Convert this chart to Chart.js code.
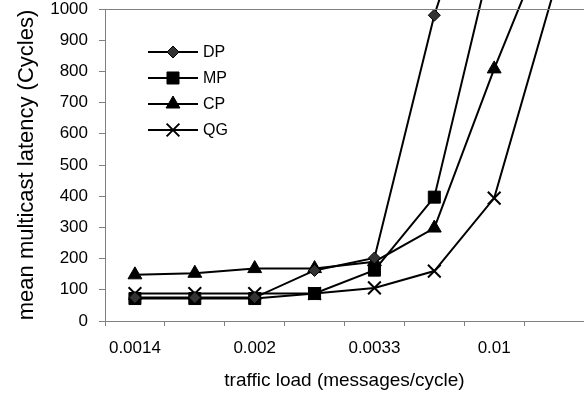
<!DOCTYPE html>
<html>
<head>
<meta charset="utf-8">
<script src="https://cdn.jsdelivr.net/npm/chart.js@4.4.1/dist/chart.umd.min.js"></script>
<style>
  html, body { margin: 0; padding: 0; background: #fff; }
  #wrap { width: 584px; height: 396px; }
</style>
</head>
<body>
<div id="wrap"><canvas id="c" width="584" height="396"></canvas></div>
<script>
const categories = ["0.0014", "", "0.002", "", "0.0033", "", "0.01", ""];
const dpValues = [75, 75, 75, 162, 202, 980, 1570, 2200];
const mpValues = [72, 72, 72, 88, 163, 397, 1200, 2000];
const cpValues = [148, 153, 168, 168, 190, 298, 808, 1280];
const qgValues = [88, 88, 88, 88, 106, 160, 394, 1060];
const yTicks = [0, 100, 200, 300, 400, 500, 600, 700, 800, 900, 1000];

const FONT = "'Liberation Sans', Arial, sans-serif";
const seriesNames = ["DP", "MP", "CP", "QG"];

function ds(label, data, style, radius) {
  return {
    label: label,
    data: data,
    borderColor: '#000',
    backgroundColor: '#000',
    borderWidth: 2,
    pointStyle: style,
    pointRadius: radius,
    pointHoverRadius: radius,
    pointBackgroundColor: style === 'rectRot' ? '#333' : '#000',
    pointBorderColor: '#000',
    pointBorderWidth: style === 'crossRot' ? 2 : 1,
    tension: 0,
    clip: false,
    fill: false
  };
}

function drawMarker(ctx, style, r, x, y) {
  ctx.beginPath();
  if (style === 'rectRot') {
    ctx.moveTo(x, y - r); ctx.lineTo(x + r, y); ctx.lineTo(x, y + r); ctx.lineTo(x - r, y); ctx.closePath();
    ctx.fill(); ctx.stroke();
  } else if (style === 'rect') {
    const h = r * Math.SQRT1_2;
    ctx.rect(x - h, y - h, 2 * h, 2 * h);
    ctx.fill(); ctx.stroke();
  } else if (style === 'triangle') {
    const a = r * Math.sqrt(3) / 2;
    ctx.moveTo(x, y - r); ctx.lineTo(x + a, y + r / 2); ctx.lineTo(x - a, y + r / 2); ctx.closePath();
    ctx.fill(); ctx.stroke();
  } else if (style === 'crossRot') {
    const h = r * Math.SQRT1_2;
    ctx.moveTo(x - h, y - h); ctx.lineTo(x + h, y + h);
    ctx.moveTo(x + h, y - h); ctx.lineTo(x - h, y + h);
    ctx.stroke();
  }
}

const legendPlugin = {
  id: 'insideLegend',
  afterDraw(chart) {
    const ctx = chart.ctx;
    const area = chart.chartArea;
    ctx.save();
    ctx.strokeStyle = '#808080';
    ctx.lineWidth = 1;
    ctx.beginPath();
    ctx.moveTo(area.left, area.top + 0.5);
    ctx.lineTo(chart.width, area.top + 0.5);
    ctx.stroke();
    const x0 = 148, x1 = 198, tx = 203;
    const rows = [52, 78, 104, 130];
    chart.data.datasets.forEach((d, i) => {
      const y = rows[i];
      ctx.strokeStyle = '#000';
      ctx.lineWidth = 2;
      ctx.beginPath();
      ctx.moveTo(x0, y);
      ctx.lineTo(x1, y);
      ctx.stroke();
      ctx.fillStyle = d.pointBackgroundColor;
      ctx.strokeStyle = '#000';
      ctx.lineWidth = d.pointBorderWidth;
      drawMarker(ctx, d.pointStyle, d.pointRadius, (x0 + x1) / 2, y);
      ctx.fillStyle = '#000';
      ctx.font = '16px ' + FONT;
      ctx.textBaseline = 'middle';
      ctx.textAlign = 'left';
      ctx.fillText(d.label, tx, y + 1);
    });
    ctx.restore();
  }
};

new Chart(document.getElementById('c'), {
  type: 'line',
  data: {
    labels: categories,
    datasets: [
      ds(seriesNames[0], dpValues, 'rectRot', 6),
      ds(seriesNames[1], mpValues, 'rect', 8.5),
      ds(seriesNames[2], cpValues, 'triangle', 8),
      ds(seriesNames[3], qgValues, 'crossRot', 9)
    ]
  },
  options: {
    responsive: false,
    animation: false,
    devicePixelRatio: 1,
    layout: { autoPadding: false, padding: { top: 9, right: 0, left: 0, bottom: 0 } },
    plugins: {
      legend: { display: false },
      tooltip: { enabled: false }
    },
    scales: {
      x: {
        type: 'category',
        offset: true,
        grid: {
          offset: true,
          drawOnChartArea: false,
          drawTicks: true,
          tickLength: 5,
          color: '#808080',
          lineWidth: 1
        },
        border: { display: true, color: '#808080', width: 1 },
        ticks: {
          color: '#000',
          font: { family: FONT, size: 17, lineHeight: 2.6 },
          padding: 0,
          maxRotation: 0,
          autoSkip: false
        },
        title: {
          display: true,
          text: 'traffic load (messages/cycle)',
          color: '#000',
          font: { family: FONT, size: 19 },
          padding: { top: 0, bottom: 4 }
        },
        afterFit(scale) {
          scale.height = 75;
        }
      },
      y: {
        min: 0,
        max: 1000,
        afterBuildTicks(scale) { scale.ticks = yTicks.map(v => ({ value: v })); },
        grid: {
          drawOnChartArea: false,
          drawTicks: true,
          tickLength: 6,
          color: '#808080',
          lineWidth: 1
        },
        border: { display: true, color: '#808080', width: 1 },
        ticks: {
          color: '#000',
          font: { family: FONT, size: 17, lineHeight: 1 },
          padding: 11,
          callback: v => String(v)
        },
        title: {
          display: true,
          text: 'mean multicast latency (Cycles)',
          color: '#000',
          font: { family: FONT, size: 22 },
          padding: { top: 14, bottom: 0 }
        },
        afterFit(scale) {
          scale.width = 105;
          scale.paddingTop = 0;
          scale.paddingBottom = 0;
        }
      }
    }
  },
  plugins: [legendPlugin]
});
</script>
</body>
</html>
